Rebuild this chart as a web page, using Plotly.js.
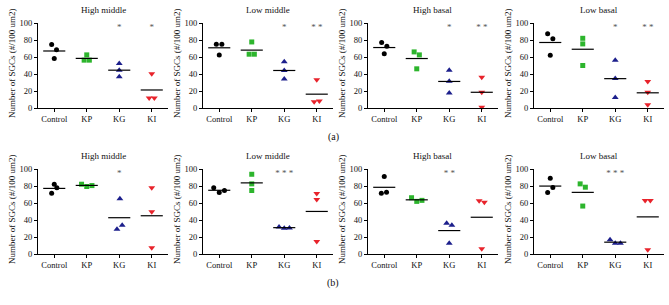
<!DOCTYPE html>
<html>
<head>
<meta charset="utf-8">
<script src="https://cdn.plot.ly/plotly-3.0.1.min.js"></script>
<style>html,body{margin:0;padding:0;background:#fff}#chart{width:669px;height:305px}</style>
</head>
<body>
<div id="chart"></div>
<script>
// ---- data ----
const groups = ["Control", "KP", "KG", "KI"];
const panelTitles = ["High middle", "Low middle", "High basal", "Low basal"];
const rowLabels = ["(a)", "(b)"];
const yTitle = "Number of SGCs (#/100 um2)";

// row (a)
const aHighMiddle = [[74.6, 68.4, 58.2], [62.5, 56.3, 56.3], [52.3, 44.5, 36.7], [40.2, 11.7, 11.7]];
const aLowMiddle  = [[75.0, 75.0, 62.5], [77.7, 63.3, 63.3], [54.3, 44.1, 34.0], [33.2, 7.4, 8.2]];
const aHighBasal  = [[77.0, 72.7, 63.7], [66.0, 62.5, 46.1], [44.5, 31.6, 17.6], [36.3, 18.4, 0.8]];
const aLowBasal   = [[87.5, 81.6, 62.1], [82.0, 75.4, 50.0], [56.3, 34.8, 12.5], [31.3, 18.4, 3.9]];
// row (b)
const bHighMiddle = [[82.1, 77.8, 71.6], [82.1, 79.4, 80.5], [65.0, 29.2, 33.9], [77.8, 49.8, 7.4]];
const bLowMiddle  = [[77.8, 72.4, 74.7], [93.8, 82.5, 74.7], [31.9, 30.4, 30.7], [71.2, 64.2, 14.8]];
const bHighBasal  = [[91.2, 71.5, 72.7], [66.2, 61.9, 63.1], [36.2, 33.8, 12.7], [62.7, 60.8, 6.2]];
const bLowBasal   = [[89.1, 78.2, 72.4], [82.5, 78.6, 56.4], [16.7, 12.5, 12.5], [63.0, 63.0, 5.0]];

// horizontal spread of the dots (category units)
const aHighMiddleJitter = [[-0.08, 0.07, 0], [0, -0.08, 0.08], [0, 0, 0], [0, -0.08, 0.08]];
const aLowMiddleJitter  = [[-0.09, 0.08, 0], [0, -0.08, 0.08], [0, 0, 0], [0, -0.08, 0.08]];
const aHighBasalJitter  = [[-0.08, 0.08, 0], [-0.08, 0.08, 0], [0, 0, 0], [0, 0, 0]];
const aLowBasalJitter   = [[-0.08, 0.08, 0], [0, 0, 0], [0, 0, 0], [0, 0, 0]];
const bHighMiddleJitter = [[0, 0.08, -0.08], [-0.16, 0, 0.16], [0.02, -0.07, 0.09], [0, 0, 0]];
const bLowMiddleJitter  = [[-0.17, 0, 0.16], [0, 0, 0], [-0.16, 0, 0.16], [0, 0, 0]];
const bHighBasalJitter  = [[0, -0.09, 0.07], [-0.16, 0, 0.16], [-0.08, 0.08, 0], [-0.08, 0.08, 0]];
const bLowBasalJitter   = [[0, 0.08, -0.08], [-0.08, 0.08, 0], [-0.16, 0, 0.16], [-0.08, 0.08, 0]];

// significance marks
const aStars = [["", "", "*", "*"], ["", "", "*", "* *"], ["", "", "*", "* *"], ["", "", "*", "* *"]];
const bStars = [["", "", "*", ""], ["", "", "* * *", ""], ["", "", "* *", ""], ["", "", "* * *", ""]];

// ---- styling ----
const groupColors = ["#000000", "#2db52d", "#1c1f8c", "#e8232b"];
const groupSymbols = ["circle", "square", "triangle-up", "triangle-down"];
const groupSizes = [5, 5, 6, 6];
const font = "Liberation Serif, Times New Roman, serif";

const panels = [aHighMiddle, aLowMiddle, aHighBasal, aLowBasal, bHighMiddle, bLowMiddle, bHighBasal, bLowBasal];
const jitters = [aHighMiddleJitter, aLowMiddleJitter, aHighBasalJitter, aLowBasalJitter,
                 bHighMiddleJitter, bLowMiddleJitter, bHighBasalJitter, bLowBasalJitter];
const stars = aStars.concat(bStars);

const W = 669, H = 305;
const colLeft = [38, 203, 368, 534];
const plotW = 130;
const rowTop = [23, 169];      // pixel of y=100
const plotH = 85;

const traces = [];
const layout = {
  width: W, height: H,
  margin: {l: 0, r: 0, t: 0, b: 0},
  paper_bgcolor: "#fff", plot_bgcolor: "rgba(0,0,0,0)",
  showlegend: false,
  font: {family: font, size: 9, color: "#111"},
  annotations: []
};

panels.forEach((vals, p) => {
  const row = Math.floor(p / 4), col = p % 4;
  const n = p === 0 ? "" : String(p + 1);
  const xa = "x" + n, ya = "y" + n;
  const x0 = colLeft[col] / W, x1 = (colLeft[col] + plotW) / W;
  const yTop = 1 - rowTop[row] / H, yBot = 1 - (rowTop[row] + plotH) / H;

  vals.forEach((gv, g) => {
    traces.push({
      type: "scatter", mode: "markers", xaxis: xa, yaxis: ya,
      x: gv.map((v, k) => g + jitters[p][g][k]), y: gv,
      marker: {symbol: groupSymbols[g], color: groupColors[g], size: groupSizes[g], line: {width: 0}},
      cliponaxis: false, hoverinfo: "skip"
    });
    const mean = gv.reduce((a, b) => a + b, 0) / gv.length;
    traces.push({
      type: "scatter", mode: "lines", xaxis: xa, yaxis: ya,
      x: [g - 0.34, g + 0.34], y: [mean, mean],
      line: {color: "#000", width: 1.2}, cliponaxis: false, hoverinfo: "skip"
    });
  });
  traces.push({
    type: "scatter", mode: "text", xaxis: xa, yaxis: ya,
    x: groups.map((_, g) => g), y: groups.map(() => 94),
    text: stars[p], textfont: {family: font, size: 9, color: "#555"},
    cliponaxis: false, hoverinfo: "skip"
  });

  layout["xaxis" + n] = {
    domain: [x0, x1], anchor: ya, range: [-0.5, 3.5],
    tickvals: [0, 1, 2, 3], ticktext: groups,
    showline: true, linecolor: "#000", linewidth: 1,
    ticks: "outside", ticklen: 3, tickcolor: "#000",
    showgrid: false, zeroline: false,
    tickfont: {family: font, size: 8.5, color: "#111"}
  };
  layout["yaxis" + n] = {
    domain: [yBot, yTop], anchor: xa, range: [0, 100],
    tickvals: [0, 20, 40, 60, 80, 100],
    showline: true, linecolor: "#000", linewidth: 1,
    ticks: "outside", ticklen: 3, tickcolor: "#000",
    showgrid: false, zeroline: false,
    tickfont: {family: font, size: 8.5, color: "#111"}
  };

  layout.annotations.push({
    xref: "paper", yref: "paper", x: (x0 + x1) / 2, y: 1 - (rowTop[row] - 13) / H,
    text: panelTitles[col], showarrow: false, xanchor: "center", yanchor: "middle",
    font: {family: font, size: 9, color: "#111"}
  });
  layout.annotations.push({
    xref: "paper", yref: "paper", x: (colLeft[col] - 26) / W, y: 1 - (rowTop[row] + 40) / H,
    text: yTitle, textangle: -90, showarrow: false, xanchor: "center", yanchor: "middle",
    font: {family: font, size: 9, color: "#111"}
  });
});

rowLabels.forEach((t, r) => {
  layout.annotations.push({
    xref: "paper", yref: "paper", x: 333 / W, y: 1 - (r === 0 ? 137 : 283) / H,
    text: t, showarrow: false, xanchor: "center", yanchor: "middle",
    font: {family: font, size: 10, color: "#111"}
  });
});

Plotly.newPlot("chart", traces, layout, {staticPlot: true, displayModeBar: false});
</script>
</body>
</html>
